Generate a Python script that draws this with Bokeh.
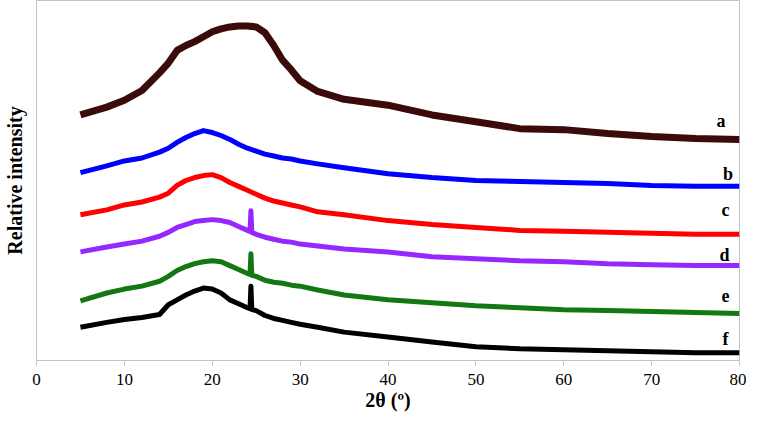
from bokeh.plotting import figure
from bokeh.models import Range1d, Label, FixedTicker
from bokeh.embed import file_html
from bokeh.resources import INLINE

# 2-theta grid (degrees)
two_theta = [5, 8, 10, 12, 14, 15, 16, 17, 18, 19, 20, 21, 22, 23, 24, 25, 26, 27, 28, 29, 30,
             32, 35, 40, 45, 50, 55, 60, 65, 70, 75, 80]
two_theta_sp = [5, 8, 10, 12, 14, 15, 16, 17, 18, 19, 20, 21, 22, 23, 24, 24.3, 24.4, 24.5, 25, 26,
                27, 28, 29, 30, 32, 35, 40, 45, 50, 55, 60, 65, 70, 75, 80]

# relative intensity (offset traces, arbitrary units)
sample_a = [251, 259, 266, 276, 294, 304, 317, 322, 326, 331, 336, 339, 341, 342, 342, 341, 335, 322,
            307, 297, 286, 275, 267, 261, 251, 244, 237, 236, 232, 229, 227, 226]
sample_b = [192, 199, 204, 207, 213, 217, 223, 228, 232, 235, 233, 230, 226, 221, 217, 214, 211, 209,
            207, 206, 204, 201, 197, 191, 187, 184, 183, 182, 181, 179, 178, 178]
sample_c = [149, 154, 159, 162, 167, 171, 179, 184, 187, 189, 190, 187, 182, 178, 174, 170, 166, 163,
            161, 159, 157, 152, 149, 143, 139, 136, 133, 132, 131, 130, 129, 129]
sample_d = [111, 116, 119, 122, 127, 131, 136, 139, 142, 143, 144, 143, 141, 137, 133, 132, 153, 131,
            129, 126, 124, 122, 121, 119, 117, 114, 111, 106, 104, 102, 101, 99, 98, 97, 97]
sample_e = [61, 69, 73, 76, 81, 86, 92, 96, 99, 101, 102, 101, 97, 93, 89, 88, 109, 87,
            86, 82, 80, 79, 77, 76, 72, 67, 62, 59, 56, 54, 52, 51, 50, 49, 48]
sample_f = [34, 39, 42, 44, 47, 57, 62, 67, 71, 74, 73, 69, 62, 58, 54, 53, 76, 52,
            51, 46, 43, 41, 39, 37, 34, 29, 24, 19, 14, 12, 11, 10, 9, 8, 8]

series_names = ["a", "b", "c", "d", "e", "f"]
series_colors = ["#3b0a0a", "#0000ff", "#ff0000", "#9628ff", "#137813", "#000000"]
label_x = [77.9, 78.7, 78.4, 78.3, 78.4, 78.4]
label_y = [245, 191, 154, 108, 66, 22]
x_ticks = [0, 10, 20, 30, 40, 50, 60, 70, 80]

SERIF = "'Liberation Serif', 'Times New Roman', serif"
GRAY = "#bcc6c6"

p = figure(width=746, height=417, output_backend="svg", toolbar_location=None,
           x_range=Range1d(0, 80), y_range=Range1d(0, 368),
           min_border_left=35, min_border_right=7, min_border_top=0, min_border_bottom=57)
p.grid.visible = False
p.outline_line_color = GRAY
p.outline_line_width = 1
p.background_fill_color = "white"
p.border_fill_color = "white"

xs_list = [two_theta, two_theta, two_theta, two_theta_sp, two_theta_sp, two_theta_sp]
ys_list = [sample_a, sample_b, sample_c, sample_d, sample_e, sample_f]
widths = [7, 5, 5, 5, 5, 5]
for xs, ys, c, w in zip(xs_list, ys_list, series_colors, widths):
    p.line(xs, ys, line_color=c, line_width=w, line_join="round")

for name, lx, ly in zip(series_names, label_x, label_y):
    p.add_layout(Label(x=lx, y=ly, text=name, text_font=SERIF, text_font_style="bold",
                       text_font_size="18px", text_color="black",
                       text_align="center", text_baseline="middle"))

# x axis
p.xaxis.ticker = FixedTicker(ticks=x_ticks)
p.xaxis.axis_line_color = GRAY
p.xaxis.major_tick_line_color = GRAY
p.xaxis.major_tick_out = 5
p.xaxis.major_tick_in = 0
p.xaxis.minor_tick_line_color = None
p.xaxis.major_label_text_font = SERIF
p.xaxis.major_label_text_font_size = "17px"
p.xaxis.major_label_text_color = "black"
p.xaxis.major_label_standoff = 8
p.xaxis.axis_label = "2θ (º)"
p.xaxis.axis_label_text_font = SERIF
p.xaxis.axis_label_text_font_style = "bold"
p.xaxis.axis_label_text_font_size = "20px"
p.xaxis.axis_label_text_color = "black"
p.xaxis.axis_label_standoff = 1

# y axis: label only
p.yaxis.ticker = FixedTicker(ticks=[])
p.yaxis.axis_line_color = None
p.yaxis.major_tick_line_color = None
p.yaxis.minor_tick_line_color = None
p.yaxis.major_tick_out = 0
p.yaxis.major_tick_in = 0
p.yaxis.axis_label = "Relative intensity"
p.yaxis.axis_label_text_font = SERIF
p.yaxis.axis_label_text_font_style = "bold"
p.yaxis.axis_label_text_font_size = "20px"
p.yaxis.axis_label_text_color = "black"
p.yaxis.axis_label_standoff = 11

open("out.html", "w").write(file_html(p, INLINE))
